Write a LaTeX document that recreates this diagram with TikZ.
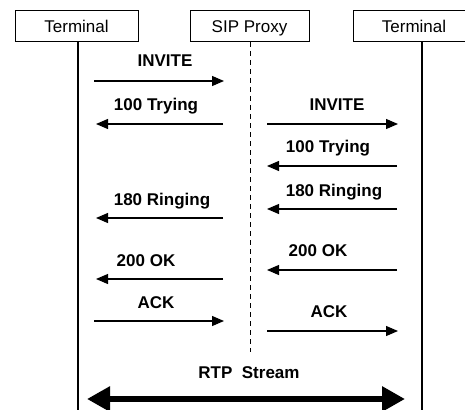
\documentclass[tikz,border=0pt]{standalone}
\usepackage{fontspec}
\setmainfont{Liberation Sans}
\usetikzlibrary{arrows.meta}
\begin{document}
\begin{tikzpicture}[x=1pt,y=-1pt,
  actor/.style={draw,line width=1pt,minimum height=31pt,inner sep=0pt,text height=12.5pt,text depth=0pt,font=\fontsize{17}{20}\selectfont},
  msg/.style={line width=1.1pt,-{Triangle[length=12pt,width=10pt]}},
  lbl/.style={anchor=base,inner sep=0pt,font=\fontsize{17}{20}\selectfont\bfseries},
  life/.style={line width=1.1pt},
  proxyline/.style={line width=1pt,dash pattern=on 5pt off 4pt},
  rtp/.style={line width=6.5pt,{Triangle[length=23pt,width=24pt]}-{Triangle[length=23pt,width=24pt]}}]
\useasboundingbox (0,0) rectangle (465,409);
\clip (0,0) rectangle (465,409);
% actors
\node[actor,minimum width=123pt] (tl) at (76.5,26.5) {Terminal};
\node[actor,minimum width=119pt] (px) at (249.5,26.5) {SIP Proxy};
\node[actor,minimum width=122pt] (tr) at (414,26.5) {Terminal};
% lifelines
\coordinate (lt) at (78,42);   \coordinate (lb) at (78,412);
\coordinate (pt) at (250,42);  \coordinate (pb) at (250,352);
\coordinate (rt) at (422,42);  \coordinate (rb) at (422,412);
\draw[life] (lt) -- (lb);
\draw[life] (rt) -- (rb);
\draw[proxyline] (pt) -- (pb);
% message end points
\coordinate (a1s) at (94,81);   \coordinate (a1e) at (224,81);
\coordinate (a2s) at (223,124); \coordinate (a2e) at (96,124);
\coordinate (a3s) at (267,124); \coordinate (a3e) at (398,124);
\coordinate (a4s) at (397,166); \coordinate (a4e) at (267,166);
\coordinate (a5s) at (397,209); \coordinate (a5e) at (267,209);
\coordinate (a6s) at (223,218); \coordinate (a6e) at (96,218);
\coordinate (a7s) at (397,270); \coordinate (a7e) at (267,270);
\coordinate (a8s) at (223,279); \coordinate (a8e) at (96,279);
\coordinate (a9s) at (94,321);  \coordinate (a9e) at (224,321);
\coordinate (a10s) at (267,331); \coordinate (a10e) at (398,331);
\coordinate (rs) at (87,399);   \coordinate (re) at (405,399);
% messages
\draw[msg] (a1s) -- (a1e);
\draw[msg] (a2s) -- (a2e);
\draw[msg] (a3s) -- (a3e);
\draw[msg] (a4s) -- (a4e);
\draw[msg] (a5s) -- (a5e);
\draw[msg] (a6s) -- (a6e);
\draw[msg] (a7s) -- (a7e);
\draw[msg] (a8s) -- (a8e);
\draw[msg] (a9s) -- (a9e);
\draw[msg] (a10s) -- (a10e);
\draw[rtp] (rs) -- (re);
% labels
\node[lbl] (l1) at (165,67) {INVITE};
\node[lbl] (l2) at (156,110.5) {100 Trying};
\node[lbl] (l3) at (337,110.5) {INVITE};
\node[lbl] (l4) at (328,152.5) {100 Trying};
\node[lbl] (l5) at (334,196.5) {180 Ringing};
\node[lbl] (l6) at (162,205) {180 Ringing};
\node[lbl] (l7) at (318,256.5) {200 OK};
\node[lbl] (l8) at (146,266) {200 OK};
\node[lbl] (l9) at (156,308) {ACK};
\node[lbl] (l10) at (329,317.5) {ACK};
\node[lbl] (l11) at (249,378) {RTP\ \ Stream};
\end{tikzpicture}
\end{document}
